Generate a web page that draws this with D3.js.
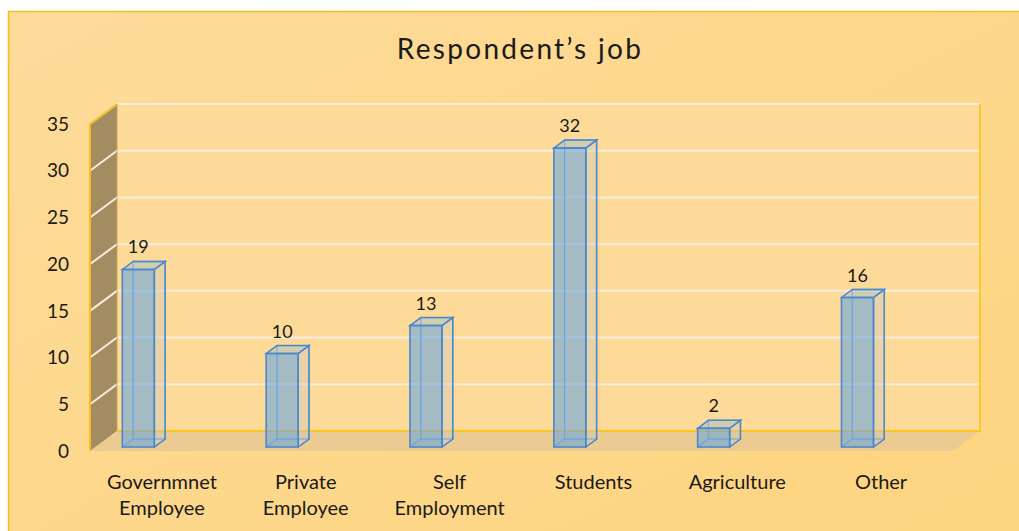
<!DOCTYPE html>
<html>
<head>
<meta charset="utf-8">
<script src="https://cdn.jsdelivr.net/npm/d3@7"></script>
<style>
  body { margin: 0; background: #fff; }
  text { font-family: Lato, "Open Sans", sans-serif; fill: #1a1a1a; }
</style>
</head>
<body>
<script>
const width = 1019;
const height = 531;

// chart data
const categories = [["Governmnet", "Employee"], ["Private", "Employee"], ["Self", "Employment"], ["Students"], ["Agriculture"], ["Other"]];
const values = [19, 10, 13, 32, 2, 16];
const yTicks = [0, 5, 10, 15, 20, 25, 30, 35];

// 3D layout: front plane and depth offset
const frontLeft = 90, frontRight = 953, floorY = 451;
const depthX = 27, depthY = -20;
const off = t => [depthX * t, depthY * t];

const x = d3.scaleBand().domain(d3.range(categories.length)).range([frontLeft, frontRight]);
const y = d3.scaleLinear().domain([0, 35]).range([floorY, floorY - 327]);

const svg = d3.select("body").append("svg")
  .attr("width", width)
  .attr("height", height);

const defs = svg.append("defs");
const grad = defs.append("linearGradient").attr("id", "bg")
  .attr("x1", 0).attr("y1", 0).attr("x2", 1).attr("y2", 1);
grad.append("stop").attr("offset", 0).attr("stop-color", "#FDDB99");
grad.append("stop").attr("offset", 1).attr("stop-color", "#FDD47F");

// chart background with border
svg.append("rect")
  .attr("x", 8.5).attr("y", 11.5)
  .attr("width", width + 10).attr("height", height + 10)
  .attr("fill", "url(#bg)")
  .attr("stroke", "#F5BA1F")
  .attr("stroke-width", 1.5);

// title
svg.append("text")
  .attr("x", 520).attr("y", 59)
  .attr("text-anchor", "middle")
  .attr("font-size", 28)
  .attr("letter-spacing", 2.3)
  .text("Respondent\u2019s  job");

const line = d3.line();
const [bx, by] = off(1);

// back wall
svg.append("rect")
  .attr("x", frontLeft + bx).attr("y", y(35) + by)
  .attr("width", frontRight - frontLeft).attr("height", y(0) - y(35))
  .attr("fill", "#FDDA98");

// side wall
svg.append("path")
  .attr("d", line([[frontLeft, y(35)], [frontLeft + bx, y(35) + by], [frontLeft + bx, y(0) + by], [frontLeft, y(0)]]) + "Z")
  .attr("fill", "#A38C61");

// floor
svg.append("path")
  .attr("d", line([[frontLeft, y(0)], [frontLeft + bx, y(0) + by], [frontRight + bx, y(0) + by], [frontRight, y(0)]]) + "Z")
  .attr("fill", "#EBCB91");

// gridlines on back and side walls
const grid = svg.append("g");
yTicks.filter(d => d > 0).forEach(d => {
  grid.append("path")
    .attr("d", line([[frontLeft, y(d)], [frontLeft + bx, y(d) + by], [frontRight + bx, y(d) + by]]))
    .attr("fill", "none")
    .attr("stroke", "#F6EDDF")
    .attr("stroke-width", 2);
});

// wall edges
svg.append("path")
  .attr("d", line([[frontLeft, y(0)], [frontLeft, y(35)], [frontLeft + bx, y(35) + by]]))
  .attr("fill", "none").attr("stroke", "#F5BE1E").attr("stroke-width", 2);
svg.append("path")
  .attr("d", line([[frontLeft + bx, y(0) + by], [frontRight + bx, y(0) + by], [frontRight + bx, y(35) + by]]))
  .attr("fill", "none").attr("stroke", "#FFC000").attr("stroke-width", 1.5);
svg.append("path")
  .attr("d", line([[frontLeft + bx, y(0) + by], [frontLeft + bx, y(35) + by]]))
  .attr("fill", "none").attr("stroke", "#C9A650").attr("stroke-width", 1);

// y axis labels
svg.append("g").selectAll("text")
  .data(yTicks)
  .join("text")
    .attr("x", 69)
    .attr("y", d => y(d))
    .attr("dy", "0.35em")
    .attr("text-anchor", "end")
    .attr("font-size", 19)
    .text(d => d);

// bars as 3D boxes
const barW = 32;
const t0 = 0.2, t1 = 0.6;
const bars = svg.append("g");
values.forEach((v, i) => {
  const x0 = x(i) + x.bandwidth() / 2 - 45;
  const [fx, fy] = off(t0);
  const [kx, ky] = off(t1);
  const fL = x0 + fx, fR = fL + barW, fB = y(0) + fy, fT = y(v) + fy;
  const kL = x0 + kx, kR = kL + barW, kB = y(0) + ky, kT = y(v) + ky;
  const g = bars.append("g");
  const stroke = "#4A88CC";
  // back face edges (seen through)
  g.append("path")
    .attr("d", line([[kL, kB], [kL, kT], [kR, kT], [kR, kB], [kL, kB]]))
    .attr("fill", "none").attr("stroke", "#6AA5E0").attr("stroke-width", 1.3);
  g.append("path")
    .attr("d", line([[fL, fB], [kL, kB]]))
    .attr("stroke", "#6AA5E0").attr("stroke-width", 1.3);
  // right side face
  g.append("path")
    .attr("d", line([[fR, fB], [fR, fT], [kR, kT], [kR, kB]]) + "Z")
    .attr("fill", "#C8C8C0").attr("fill-opacity", 0.4)
    .attr("stroke", stroke).attr("stroke-width", 1.5);
  // top face
  g.append("path")
    .attr("d", line([[fL, fT], [kL, kT], [kR, kT], [fR, fT]]) + "Z")
    .attr("fill", "#A3BFC9").attr("fill-opacity", 0.5)
    .attr("stroke", stroke).attr("stroke-width", 1.5);
  // front face
  g.append("rect")
    .attr("x", fL).attr("y", fT)
    .attr("width", barW).attr("height", fB - fT)
    .attr("fill", "#6AA6E0").attr("fill-opacity", 0.6)
    .attr("stroke", stroke).attr("stroke-width", 1.6);
  // value label
  svg.append("text")
    .attr("x", fL + barW / 2)
    .attr("y", kT - 8)
    .attr("text-anchor", "middle")
    .attr("font-size", 18)
    .text(v);
});

// category labels
svg.append("g").selectAll("text")
  .data(categories)
  .join("text")
    .attr("x", (d, i) => x(i) + x.bandwidth() / 2)
    .attr("y", 489)
    .attr("text-anchor", "middle")
    .attr("font-size", 20)
    .each(function(d) {
      d3.select(this).selectAll("tspan")
        .data(d)
        .join("tspan")
          .attr("x", d3.select(this).attr("x"))
          .attr("dy", (s, j) => j === 0 ? 0 : 26)
          .text(s => s);
    });
</script>
</body>
</html>
